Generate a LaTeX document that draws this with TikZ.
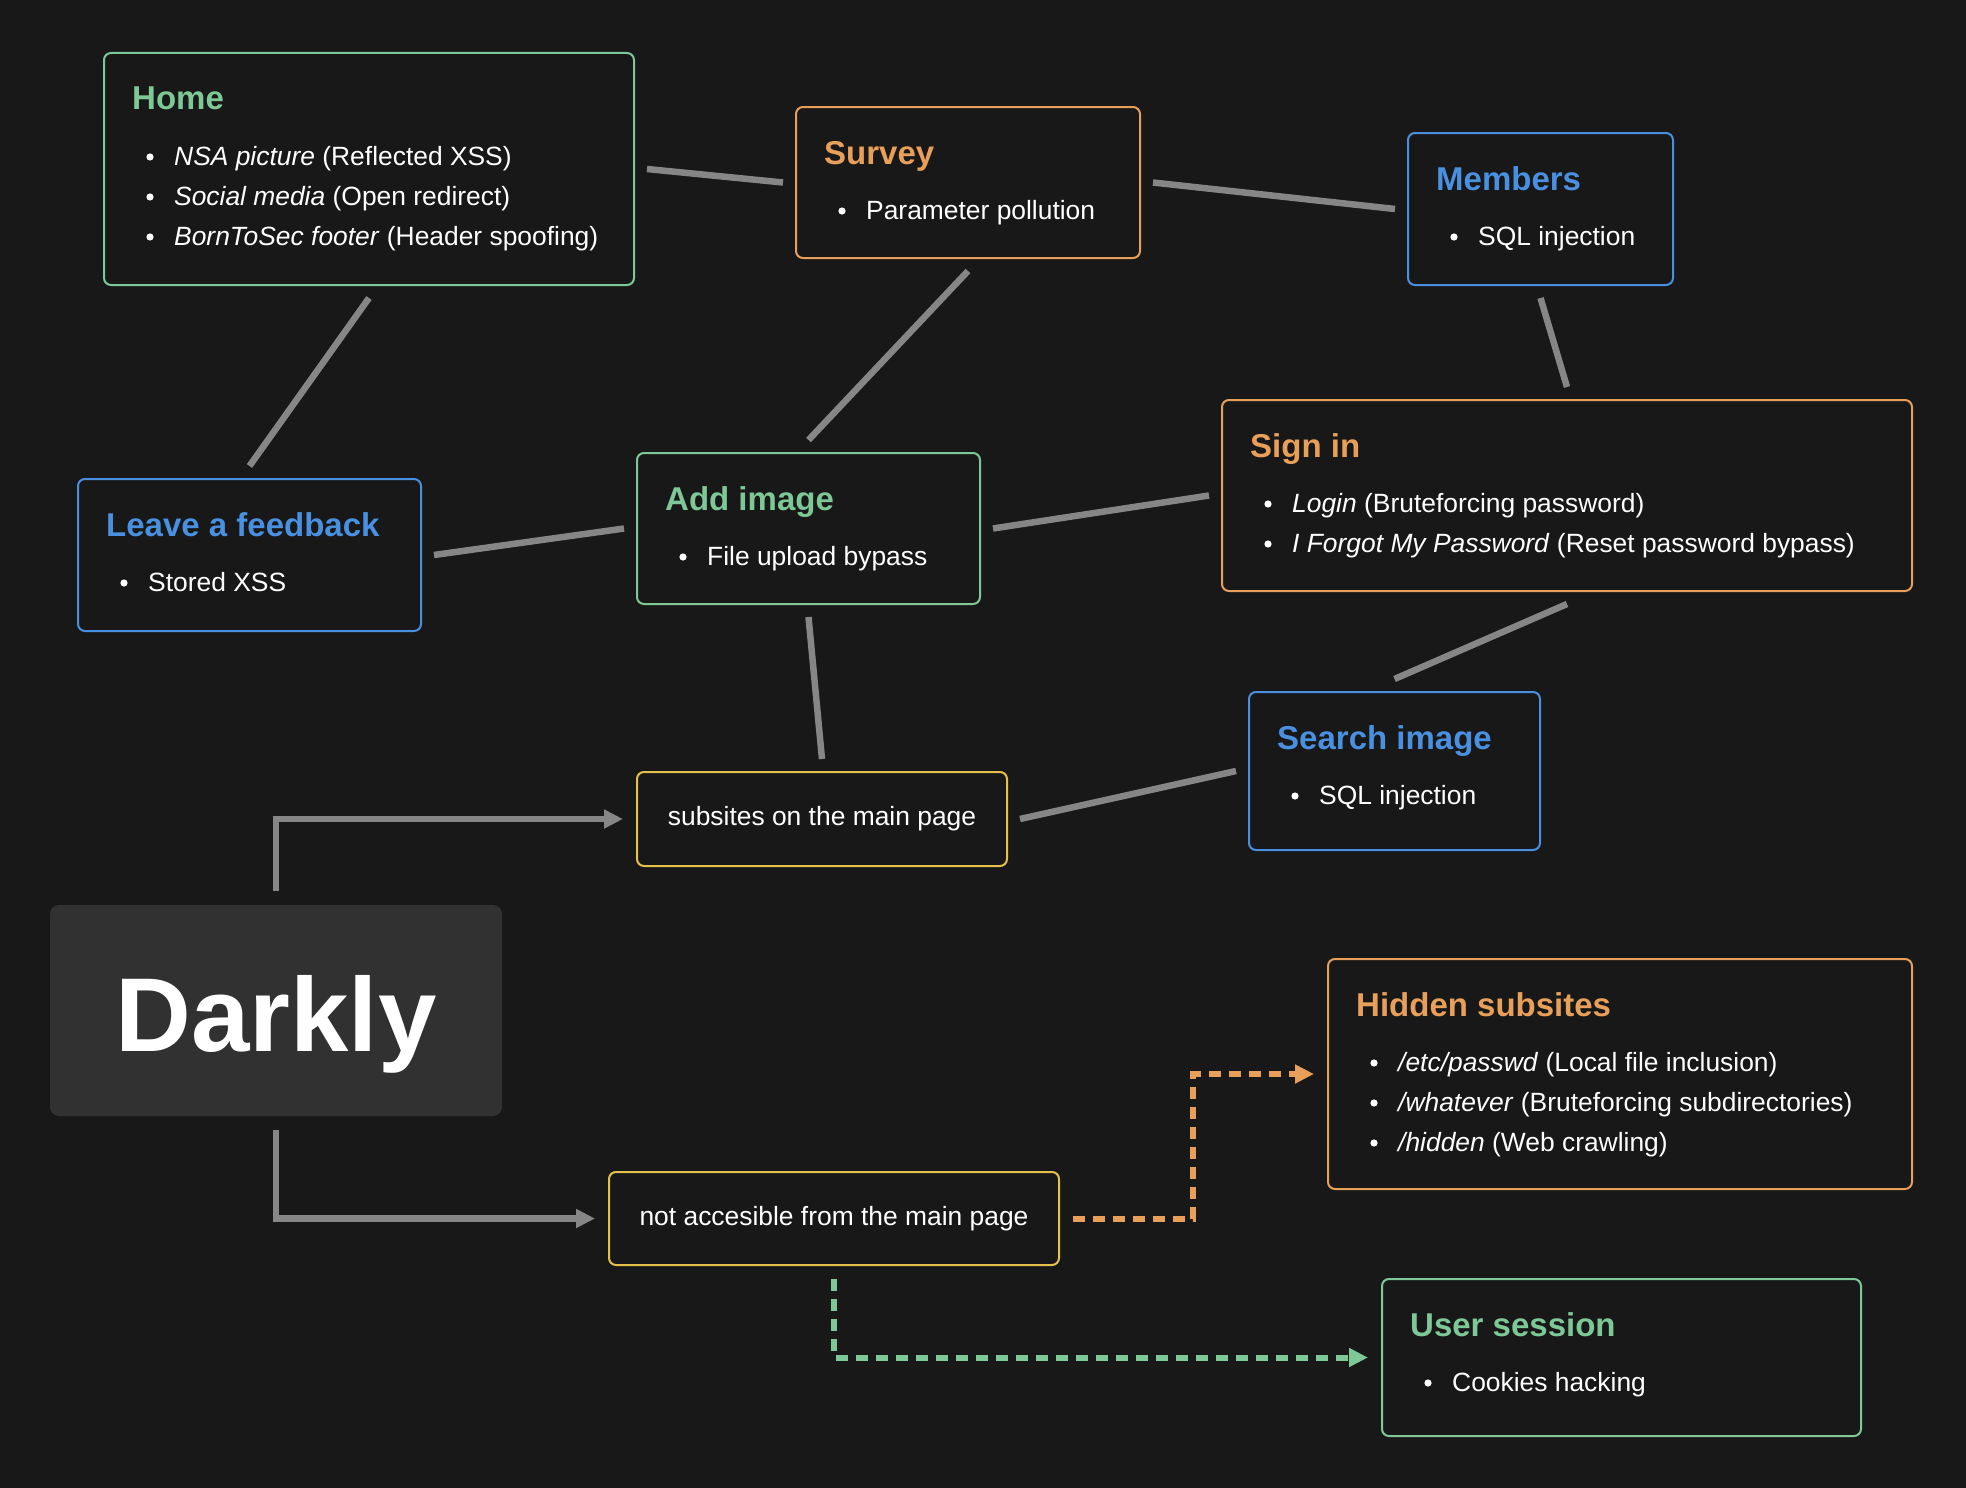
\documentclass[tikz,border=0pt]{standalone}
\usepackage{fontspec}
\setmainfont{Liberation Sans}
\usetikzlibrary{calc,arrows.meta}
\definecolor{bgc}{HTML}{181818}
\definecolor{greenc}{HTML}{7DC896}
\definecolor{orangec}{HTML}{E89F5A}
\definecolor{bluec}{HTML}{4A90E0}
\definecolor{yellowc}{HTML}{E5C04A}
\definecolor{grayc}{HTML}{868686}
\definecolor{darkfill}{HTML}{313131}
\newcommand\mybox[7]{%
  \node[boxst, draw=#2, minimum width={#5-#3}, minimum height={#6-#4}, anchor=north west] (#1) at (#3,#4) {};
  \node[titlest, text=#2, anchor=base west] (#1-t) at ($(#1.north west)+(28,57)$) {#7};}
\newcommand\myitem[3]{%
  \fill[white] ($(#1.north west)+(46,{104+40*#2})$) circle (3.6);
  \node[itemst, anchor=base west] (#1-i#2) at ($(#1.north west)+(70,{112+40*#2})$) {#3};}
\begin{document}
\begin{tikzpicture}[x=1pt,y=-1pt,
  boxst/.style={rectangle, rounded corners=7, line width=2, inner sep=0, outer sep=0, fill=bgc},
  titlest/.style={inner sep=0, font=\bfseries\fontsize{33}{40}\selectfont},
  itemst/.style={inner sep=0, text=white, font=\fontsize{26.4}{32}\selectfont},
  plainbox/.style={boxst, draw=yellowc, text=white, font=\fontsize{26.4}{32}\selectfont},
  link/.style={draw=grayc, line width=6.5},
  garrow/.style={draw=grayc, line width=6.5, -{Triangle[length=19pt,width=18pt]}},
  darrow/.style={line width=6, dash pattern=on 12pt off 8pt}]
\fill[bgc] (0,0) rectangle (1966,1488);
\useasboundingbox (0,0) rectangle (1966,1488);

\mybox{home}{greenc}{104}{53}{634}{285}{Home}
\myitem{home}{0}{\textit{NSA picture} (Reflected XSS)}
\myitem{home}{1}{\textit{Social media} (Open redirect)}
\myitem{home}{2}{\textit{BornToSec footer} (Header spoofing)}

\mybox{survey}{orangec}{796}{107}{1140}{258}{Survey}
\myitem{survey}{0}{Parameter pollution}

\mybox{members}{bluec}{1408}{133}{1673}{285}{Members}
\myitem{members}{0}{SQL injection}

\mybox{feedback}{bluec}{78}{479}{421}{631}{Leave a feedback}
\myitem{feedback}{0}{Stored XSS}

\mybox{addimg}{greenc}{637}{453}{980}{604}{Add image}
\myitem{addimg}{0}{File upload bypass}

\mybox{signin}{orangec}{1222}{400}{1912}{591}{Sign in}
\myitem{signin}{0}{\textit{Login} (Bruteforcing password)}
\myitem{signin}{1}{\textit{I Forgot My Password} (Reset password bypass)}

\mybox{search}{bluec}{1249}{692}{1540}{850}{Search image}
\myitem{search}{0}{SQL injection}

\mybox{hidden}{orangec}{1328}{959}{1912}{1189}{Hidden subsites}
\myitem{hidden}{0}{\textit{/etc/passwd} (Local file inclusion)}
\myitem{hidden}{1}{\textit{/whatever} (Bruteforcing subdirectories)}
\myitem{hidden}{2}{\textit{/hidden} (Web crawling)}

\mybox{user}{greenc}{1382}{1279}{1861}{1436}{User session}
\myitem{user}{0}{Cookies hacking}

\node[plainbox, minimum width=370, minimum height=94, anchor=north west] (subsites) at (637,772) {subsites on the main page};
\node[plainbox, minimum width=450, minimum height=93, anchor=north west] (notacc) at (609,1172) {not accesible from the main page};

\node[fill=darkfill, rounded corners=9, minimum width=452, minimum height=211, inner sep=0, outer sep=0, anchor=north west] (darkly) at (50,905) {};
\node[inner sep=0, anchor=base, text=white, font=\bfseries\fontsize{105}{110}\selectfont] (darkly-t) at ($(darkly.north)+(0,146)$) {Darkly};

% links
\draw[link] ($(home.east)+(13,0)$) -- ($(survey.west)+(-13,0)$);
\draw[link] ($(survey.east)+(13,0)$) -- ($(members.west)+(-13,0)$);
\draw[link] ($(home.south)+(0,13)$) -- ($(feedback.north)+(0,-13)$);
\draw[link] ($(survey.south)+(0,13)$) -- ($(addimg.north)+(0,-13)$);
\draw[link] ($(members.south)+(0,13)$) -- ($(signin.north)+(0,-13)$);
\draw[link] ($(feedback.east)+(13,0)$) -- ($(addimg.west)+(-13,0)$);
\draw[link] ($(addimg.east)+(13,0)$) -- ($(signin.west)+(-13,0)$);
\draw[link] ($(addimg.south)+(0,13)$) -- ($(subsites.north)+(0,-13)$);
\draw[link] ($(signin.south)+(0,13)$) -- ($(search.north)+(0,-13)$);
\draw[link] ($(subsites.east)+(13,0)$) -- ($(search.west)+(-13,0)$);

% arrows
\draw[garrow] ($(darkly.north)+(0,-14)$) |- ($(subsites.west)+(-14,0)$);
\draw[garrow] ($(darkly.south)+(0,14)$) |- ($(notacc.west)+(-14,0)$);
\draw[darrow, draw=orangec, -{Triangle[length=19pt,width=18pt,fill=orangec]}] ($(notacc.east)+(14,0)$) -- ++(120,0) |- ($(hidden.west)+(-14,0)$);
\draw[darrow, draw=greenc, -{Triangle[length=19pt,width=18pt,fill=greenc]}] ($(notacc.south)+(0,14)$) |- ($(user.west)+(-14,0)$);
\end{tikzpicture}
\end{document}
